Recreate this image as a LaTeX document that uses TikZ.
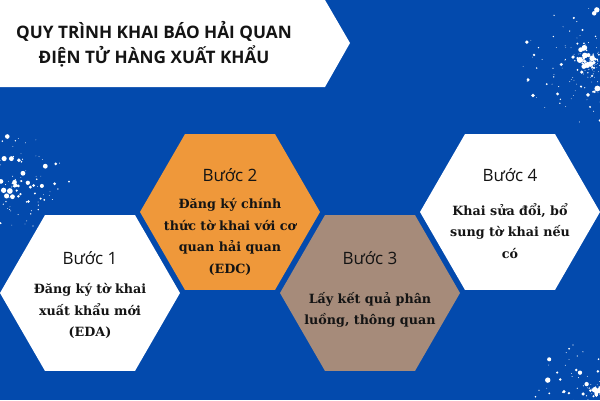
\documentclass[tikz,border=0pt]{standalone}
\usepackage{fontspec}
\setmainfont{DejaVu Serif}
\newfontfamily\titlefont{Open Sans}
\usetikzlibrary{shapes.geometric}
\definecolor{bgblue}{RGB}{3,74,173}
\definecolor{hexorange}{RGB}{239,152,58}
\definecolor{hexbrown}{RGB}{166,139,122}
\definecolor{txt}{RGB}{20,20,20}
\tikzset{
  hexbox/.style={regular polygon, regular polygon sides=6, minimum size=180pt, inner sep=0pt, draw=none},
  stephead/.style={font=\titlefont\fontsize{17}{19}\selectfont, text=txt},
  stepbody/.style={font=\bfseries\fontsize{12.7}{21.5}\selectfont, text=txt, align=center},
  titletext/.style={font=\titlefont\bfseries\fontsize{17.2}{25}\selectfont, text=txt, align=center},
}
\begin{document}
\begin{tikzpicture}[x=1pt,y=-1pt]
\useasboundingbox (0,0) rectangle (600,400);
\fill[bgblue] (0,0) rectangle (600,400);
% splatter
\pgfmathsetseed{4242}
\foreach \cx/\cy/\R/\n in {15/185/55/140, 590/65/70/220, 595/390/60/130}{
  \foreach \i in {1,...,\n}{
    \pgfmathsetmacro{\ang}{360*rnd}
    \pgfmathsetmacro{\rr}{\R*pow(rnd,1.2)}
    \pgfmathsetmacro{\dr}{0.4+2.6*pow(rnd,4)}
    \fill[white] ({\cx+\rr*cos(\ang)},{\cy+\rr*sin(\ang)*0.9}) circle[radius=\dr];
  }
}
% title banner
\fill[white] (0,0) -- (325,0) -- (350,43) -- (325,87) -- (0,87) -- cycle;
\node[titletext] (title) at (154,44) {QUY TRÌNH KHAI BÁO HẢI QUAN\\ĐIỆN TỬ HÀNG XUẤT KHẨU};
% hexagons
\node[hexbox, fill=white] (h1) at (90,293) {};
\node[hexbox, fill=hexorange] (h2) at (230,212) {};
\node[hexbox, fill=hexbrown] (h3) at (370,293) {};
\node[hexbox, fill=white] (h4) at (510,212) {};
% texts
\node[stephead] (s1) at (90,258) {Bước 1};
\node[stepbody] (b1) at (90,311) {Đăng ký tờ khai\\xuất khẩu mới\\(EDA)};
\node[stephead] (s2) at (230,175) {Bước 2};
\node[stepbody] (b2) at (230,237) {Đăng ký chính\\thức tờ khai với cơ\\quan hải quan\\(EDC)};
\node[stephead] (s3) at (370,258) {Bước 3};
\node[stepbody] (b3) at (370,310) {Lấy kết quả phân\\luồng, thông quan};
\node[stephead] (s4) at (510,175) {Bước 4};
\node[stepbody] (b4) at (510,231) {Khai sửa đổi, bổ\\sung tờ khai nếu\\có};
\end{tikzpicture}
\end{document}
